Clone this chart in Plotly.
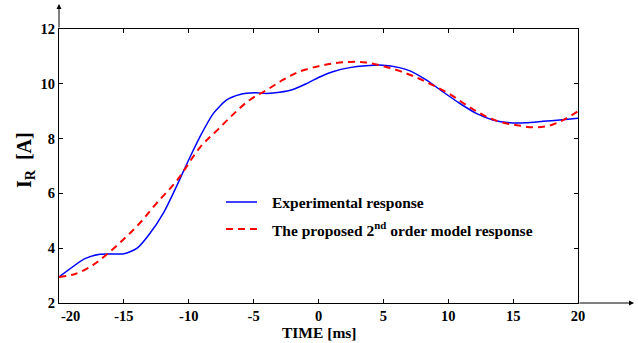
import plotly.graph_objects as go

# Experimental response (blue)
t_exp = [-20, -18.0, -16.85, -15, -14.0, -13.1, -11.9, -10.9, -9.9, -9.0, -8.1, -7.08,
         -6.05, -4.9, -4.0, -3.0, -1.97, -0.95, 0, 1.1, 2.4, 3.66, 4.95, 6.24, 7.0, 8.3,
         9.58, 10.87, 12.16, 13.45, 14.74, 16.0, 17.3, 18.6, 20]
i_exp = [2.95, 3.62, 3.78, 3.80, 3.99, 4.47, 5.33, 6.30, 7.33, 8.19, 8.92, 9.41,
         9.61, 9.67, 9.65, 9.69, 9.79, 10.0, 10.23, 10.44, 10.59, 10.66, 10.68, 10.59, 10.48, 10.14,
         9.71, 9.29, 8.92, 8.68, 8.58, 8.58, 8.63, 8.68, 8.74]

# Proposed 2nd order model response (red dashed)
t_mod = [-20, -18.7, -17.4, -16.4, -15.1, -13.8, -12.5, -10.9, -9.1, -7.8, -6.5, -5.3,
         -4.0, -2.75, -1.5, 0, 1.1, 2.4, 3.66, 4.95, 6.24, 7.5, 8.8, 10.1, 11.4, 12.7,
         14.0, 15.3, 16.6, 17.9, 19.1, 20]
i_mod = [2.95, 3.07, 3.38, 3.74, 4.29, 4.90, 5.63, 6.48, 7.70, 8.31, 8.92, 9.41,
         9.77, 10.14, 10.44, 10.64, 10.74, 10.80, 10.78, 10.65, 10.47, 10.24, 9.95, 9.63, 9.22, 8.86,
         8.61, 8.49, 8.41, 8.49, 8.74, 9.0]

x_ticks = [-15, -10, -5, 0, 5, 10, 15, 20]
y_ticks = [2, 4, 6, 8, 10, 12]
legend_names = ["Experimental response", "The proposed 2<sup>nd</sup> order model response"]
colors = ["#0000ff", "#ff0000"]

FONT = "'Liberation Serif', 'Times New Roman', serif"

W, H = 638, 343
ML, MR, MT, MB = 59, 60, 29, 40
PW, PH = W - ML - MR, H - MT - MB

fig = go.Figure()
fig.add_trace(go.Scatter(x=t_exp, y=i_exp, mode="lines", name=legend_names[0],
                         line=dict(color=colors[0], width=1.5, shape="spline", smoothing=0.6)))
fig.add_trace(go.Scatter(x=t_mod, y=i_mod, mode="lines", name=legend_names[1],
                         line=dict(color=colors[1], width=2, dash="7px,5px", shape="spline")))

axis_common = dict(showline=True, linecolor="black", linewidth=1, mirror="ticks",
                   ticks="inside", ticklen=4, tickcolor="black", showgrid=False, zeroline=False,
                   tickfont=dict(family=FONT, size=14.5, color="black", weight="bold"))

fig.update_layout(
    width=W, height=H,
    margin=dict(l=ML, r=MR, t=MT, b=MB),
    paper_bgcolor="white", plot_bgcolor="white",
    xaxis=dict(range=[-20, 20], tickvals=x_ticks, ticktext=[str(v) for v in x_ticks], **axis_common),
    yaxis=dict(range=[2, 12], tickvals=y_ticks, **axis_common),
    showlegend=False,
)

# manual legend (in-plot)
leg_rows_px = [202, 229]
for name, col, ypx, dash in zip(legend_names, colors, leg_rows_px, ["solid", "7px,5px"]):
    yp = 1 - (ypx - MT) / PH
    fig.add_shape(type="line", xref="paper", yref="paper",
                  x0=(226 - ML) / PW, x1=(257 - ML) / PW, y0=yp, y1=yp,
                  line=dict(color=col, width=1.5 if dash == "solid" else 2, dash=dash))
    fig.add_annotation(x=(270 - ML) / PW, y=yp, xref="paper", yref="paper", text=name,
                       showarrow=False, xanchor="left", yanchor="middle",
                       font=dict(family=FONT, size=15.5, color="black", weight="bold"))

# -20 tick label (shifted right like in the reference)
fig.add_annotation(x=-20, y=0, xref="x", yref="paper", text="-20", showarrow=False,
                   xanchor="left", yanchor="top", xshift=0, yshift=-3,
                   font=dict(family=FONT, size=14.5, color="black", weight="bold"))
fig.add_annotation(x=0.5, y=0, xref="paper", yref="paper", text="TIME [ms]", showarrow=False,
                   xanchor="center", yanchor="top", yshift=-19,
                   font=dict(family=FONT, size=15.5, color="black", weight="bold"))
fig.add_annotation(x=0, y=0.5, xref="paper", yref="paper",
                   text="I<sub>R</sub>\u00a0\u00a0[A]", showarrow=False,
                   textangle=-90, xanchor="center", yanchor="middle", xshift=-34, yshift=6,
                   font=dict(family=FONT, size=20, color="black", weight="bold"))
# axis arrows
fig.add_annotation(x=0, y=1 + 25 / PH, xref="paper", yref="paper", text="", showarrow=True,
                   ax=0, ay=25, arrowhead=2, arrowsize=1, arrowwidth=1, arrowcolor="black")
fig.add_annotation(x=1 + 56 / PW, y=0, xref="paper", yref="paper", text="", showarrow=True,
                   ax=-56, ay=0, arrowhead=2, arrowsize=1, arrowwidth=1, arrowcolor="black")

fig.write_html("out.html", post_script="document.body.style.margin='0';",
               config={"displayModeBar": False})
